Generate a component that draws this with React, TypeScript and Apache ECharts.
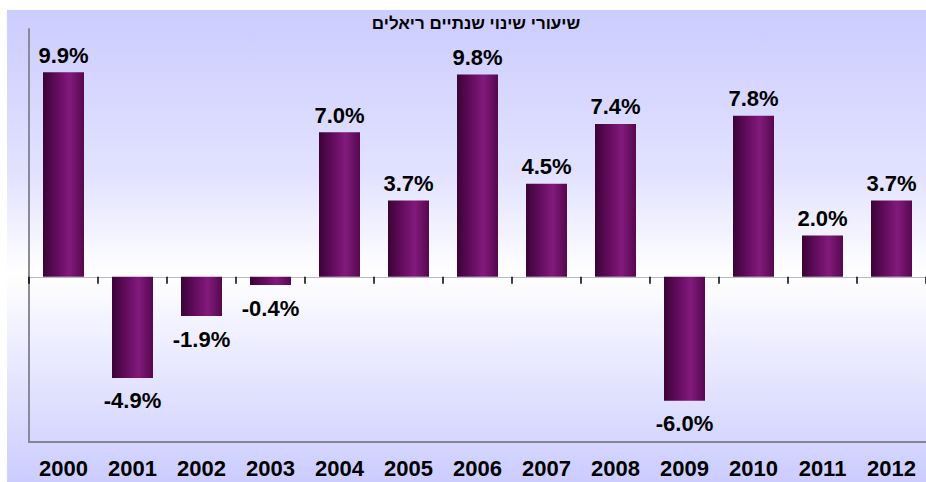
import React, { useEffect, useRef } from "react";
import * as echarts from "echarts";

const years = ["2000", "2001", "2002", "2003", "2004", "2005", "2006", "2007", "2008", "2009", "2010", "2011", "2012"];
const growth = [9.9, -4.9, -1.9, -0.4, 7.0, 3.7, 9.8, 4.5, 7.4, -6.0, 7.8, 2.0, 3.7];
const titleText = "שיעורי שינוי שנתיים ריאלים";

const FONT = "Arial, 'Liberation Sans', sans-serif";

export default function App() {
  const ref = useRef<HTMLDivElement>(null);

  useEffect(() => {
    if (!ref.current) return;
    const chart = echarts.init(ref.current, null, { renderer: "svg" });
    const barColor = new echarts.graphic.LinearGradient(0, 0, 1, 0, [
      { offset: 0, color: "#3a0436" },
      { offset: 0.35, color: "#640c5f" },
      { offset: 0.65, color: "#821a7c" },
      { offset: 1, color: "#55084f" },
    ]);
    const last = years.length - 1;
    chart.setOption({
      animation: false,
      backgroundColor: "transparent",
      graphic: [
        {
          type: "text",
          x: 476,
          y: 23,
          style: {
            text: titleText,
            fill: "#000",
            font: `bold 17px ${FONT}`,
            textAlign: "center",
            textVerticalAlign: "middle",
          },
        },
      ],
      grid: { left: 29, top: 29, width: 903, height: 413, containLabel: false },
      xAxis: [
        {
          type: "category",
          data: years,
          position: "bottom",
          axisLine: { show: true, onZero: true, lineStyle: { color: "#b8b8c0", width: 1 } },
          axisTick: { show: false },
          axisLabel: { show: false },
          splitLine: { show: false },
        },
        {
          type: "category",
          data: years,
          position: "bottom",
          axisLine: { show: true, onZero: false, lineStyle: { color: "#85858f", width: 2 } },
          axisTick: { show: false },
          axisLabel: {
            show: true,
            interval: 0,
            margin: 15,
            color: "#000",
            fontWeight: "bold",
            fontSize: 22,
            fontFamily: FONT,
          },
          splitLine: { show: false },
        },
      ],
      yAxis: {
        type: "value",
        min: -8,
        max: 12,
        interval: 2,
        axisLine: { show: true, onZero: false, lineStyle: { color: "#8a8a98", width: 2 } },
        axisTick: { show: false },
        axisLabel: { show: false },
        splitLine: { show: false },
      },
      series: [
        {
          type: "bar",
          xAxisIndex: 0,
          barWidth: 41,
          data: growth.map((v) => ({
            value: v,
            label: v < 0 ? { position: "bottom", distance: 12 } : { position: "top", distance: 6 },
          })),
          itemStyle: { color: barColor },
          label: {
            show: true,
            color: "#000",
            fontWeight: "bold",
            fontSize: 22,
            fontFamily: FONT,
            formatter: (p: any) => `${Number(p.value).toFixed(1)}%`,
          },
        },
        {
          type: "custom",
          xAxisIndex: 0,
          silent: true,
          z: 4,
          clip: false,
          data: years.map((y, i) => [i, 0]),
          renderItem: (params: any, api: any) => {
            const idx = api.value(0);
            const c = api.coord([idx, 0]);
            const w = api.size([1, 0])[0];
            const xs = [c[0] - w / 2];
            if (idx === last) xs.push(c[0] + w / 2);
            return {
              type: "group",
              children: xs.map((x) => ({
                type: "line",
                shape: { x1: Math.round(x), y1: c[1], x2: Math.round(x), y2: c[1] + 7 },
                style: { stroke: "#000", lineWidth: 1.5 },
              })),
            };
          },
        },
      ],
    });
    return () => chart.dispose();
  }, []);

  return (
    <div style={{ position: "fixed", left: 0, top: 0, width: 926, height: 482, background: "#fff", overflow: "hidden" }}>
      <div
        style={{
          position: "absolute",
          left: 7,
          top: 10,
          width: 919,
          height: 472,
          background: "linear-gradient(to bottom, #ccccff 0%, #e2e2ff 35%, #ffffff 56%, #f4f4ff 65%, #ccccff 100%)",
        }}
      />
      <div ref={ref} style={{ position: "absolute", left: 0, top: 0, width: 926, height: 482 }} />
    </div>
  );
}
